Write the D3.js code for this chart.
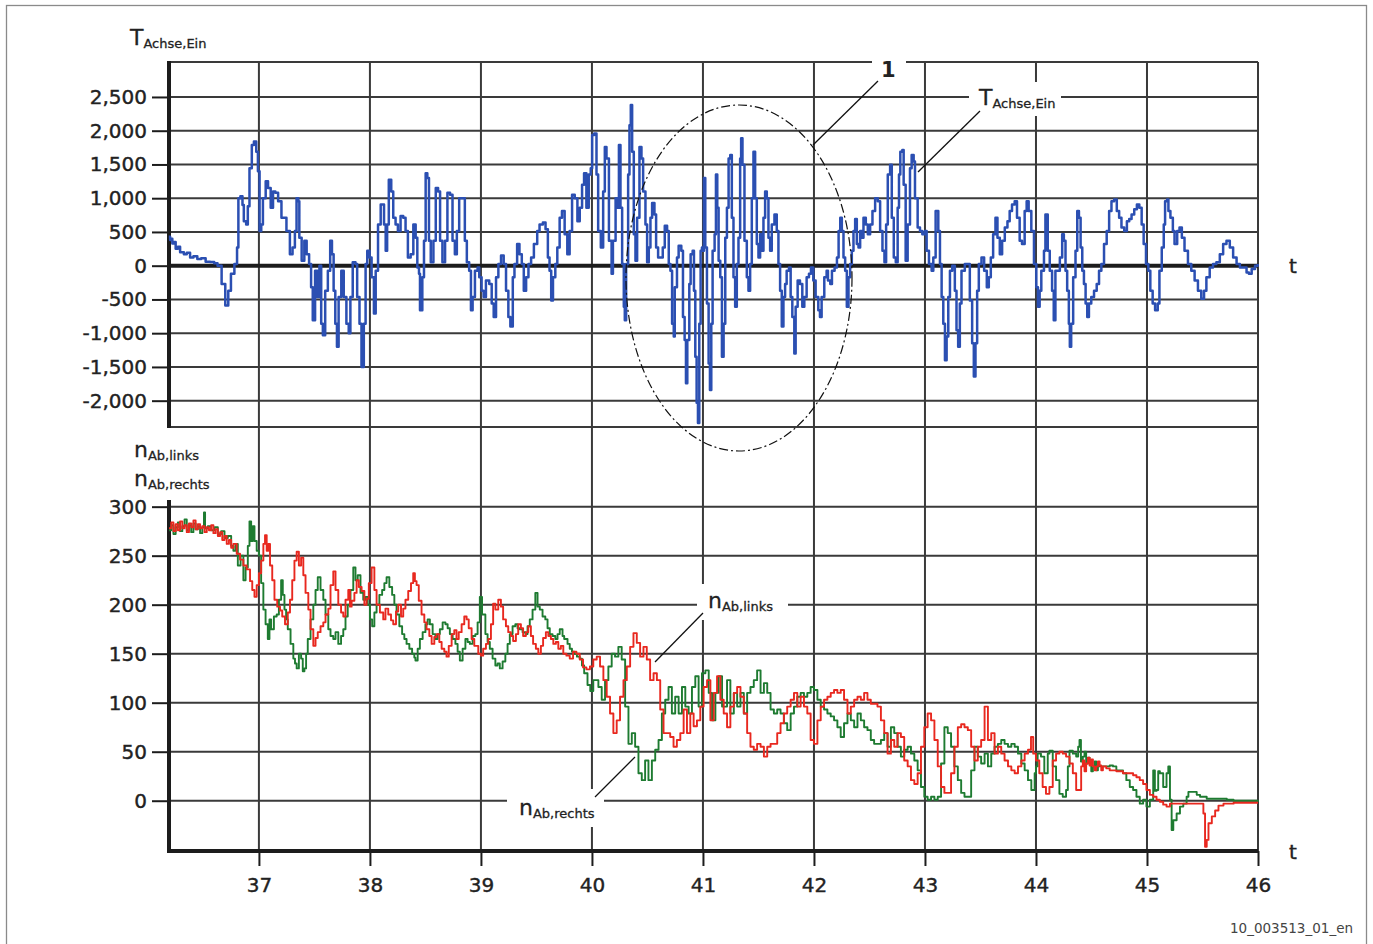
<!DOCTYPE html>
<html><head><meta charset="utf-8">
<script src="https://cdn.jsdelivr.net/npm/d3@7"></script>
<style>
html,body{margin:0;padding:0;background:#fff;}
svg{display:block;font-family:"DejaVu Sans",sans-serif;}
</style></head><body>
<svg id="chart" width="1373" height="944"></svg>
<script>
// ---------- data ----------
const torqueTicks = [-2000,-1500,-1000,-500,0,500,1000,1500,2000,2500];
const speedTicks = [0,50,100,150,200,250,300];
const timeTicks = [37,38,39,40,41,42,43,44,45,46];

// T_Achse,Ein  [t, value]
const torque = [[36.188,430],[36.2,380],[36.21,400],[36.22,330],[36.235,350],[36.25,250],[36.27,280],[36.29,200],[36.324,170],[36.35,190],[36.38,120],[36.41,140],[36.445,100],[36.48,110],[36.52,60],[36.56,55],[36.597,35],[36.627,0],[36.664,-270],[36.697,-590],[36.724,-370],[36.748,-120],[36.779,25],[36.803,270],[36.815,1000],[36.833,1030],[36.852,900],[36.864,660],[36.885,610],[36.9,880],[36.915,1445],[36.936,1790],[36.955,1840],[36.976,1690],[36.991,1400],[37.006,515],[37.021,610],[37.036,1000],[37.061,1250],[37.082,1150],[37.106,860],[37.127,1100],[37.148,1080],[37.173,955],[37.203,710],[37.248,515],[37.279,170],[37.303,270],[37.324,515],[37.339,1000],[37.355,955],[37.364,415],[37.385,75],[37.409,370],[37.43,170],[37.452,25],[37.47,-320],[37.485,-810],[37.506,-75],[37.527,-465],[37.545,0],[37.561,-860],[37.576,-1030],[37.597,-370],[37.621,-75],[37.642,370],[37.658,170],[37.673,-370],[37.688,-860],[37.703,-1200],[37.718,-465],[37.742,-75],[37.764,-465],[37.788,-860],[37.809,-1000],[37.824,-465],[37.845,50],[37.87,25],[37.885,-465],[37.906,-860],[37.924,-1500],[37.945,-860],[37.961,25],[37.976,220],[37.997,120],[38.015,-170],[38.036,-710],[38.052,-75],[38.073,610],[38.097,905],[38.127,610],[38.142,220],[38.155,610],[38.17,1275],[38.192,1100],[38.21,710],[38.231,610],[38.252,515],[38.276,735],[38.3,710],[38.321,515],[38.342,120],[38.367,170],[38.391,610],[38.412,415],[38.427,-25],[38.442,-120],[38.451,-660],[38.472,-170],[38.487,370],[38.502,1370],[38.517,1300],[38.532,370],[38.548,50],[38.572,370],[38.593,1150],[38.614,1100],[38.632,370],[38.653,50],[38.677,370],[38.698,1080],[38.722,1050],[38.744,370],[38.765,170],[38.783,515],[38.804,1000],[38.834,1000],[38.855,370],[38.873,50],[38.894,-75],[38.91,-660],[38.925,-465],[38.946,-75],[38.97,-25],[38.985,-170],[39.006,-370],[39.024,-465],[39.045,-220],[39.075,-270],[39.097,-560],[39.115,-760],[39.136,-170],[39.157,25],[39.181,150],[39.205,25],[39.226,-370],[39.247,-760],[39.265,-900],[39.287,-170],[39.302,25],[39.326,320],[39.347,170],[39.368,25],[39.386,-370],[39.407,-170],[39.428,25],[39.452,120],[39.477,320],[39.507,515],[39.528,610],[39.558,640],[39.582,540],[39.603,120],[39.618,-75],[39.633,-515],[39.649,-170],[39.67,25],[39.688,270],[39.709,710],[39.73,810],[39.754,465],[39.778,170],[39.799,515],[39.821,1050],[39.845,1000],[39.869,660],[39.89,860],[39.911,1200],[39.929,1370],[39.95,860],[39.971,1350],[39.989,1445],[40.002,1935],[40.02,1960],[40.041,1350],[40.056,515],[40.08,270],[40.101,1100],[40.116,1760],[40.131,1590],[40.153,370],[40.177,-120],[40.189,370],[40.213,1000],[40.228,860],[40.243,1790],[40.257,860],[40.272,25],[40.287,-610],[40.296,-810],[40.308,25],[40.326,1350],[40.338,2080],[40.35,2380],[40.362,1690],[40.377,465],[40.392,75],[40.407,710],[40.428,1760],[40.446,1590],[40.461,1100],[40.482,610],[40.497,50],[40.512,270],[40.527,710],[40.542,930],[40.563,760],[40.578,270],[40.596,120],[40.617,120],[40.638,270],[40.656,590],[40.677,515],[40.692,25],[40.707,-75],[40.722,-860],[40.737,-1050],[40.746,-320],[40.766,120],[40.781,295],[40.805,220],[40.82,-760],[40.835,-1100],[40.847,-1740],[40.859,-1100],[40.877,-270],[40.889,170],[40.907,220],[40.919,-370],[40.931,-1350],[40.943,-2030],[40.955,-2330],[40.967,-860],[40.979,220],[40.991,270],[41.0,220],[41.009,1300],[41.021,270],[41.036,-560],[41.051,-1450],[41.063,-1840],[41.075,-860],[41.087,220],[41.105,465],[41.117,1350],[41.129,860],[41.141,75],[41.156,-170],[41.171,-1350],[41.186,-860],[41.201,415],[41.216,860],[41.231,1590],[41.246,1640],[41.26,710],[41.275,-170],[41.29,-610],[41.305,25],[41.32,415],[41.335,1590],[41.344,1890],[41.356,1495],[41.374,370],[41.395,-170],[41.41,-370],[41.425,25],[41.44,1000],[41.455,1690],[41.47,1000],[41.485,320],[41.5,120],[41.515,465],[41.53,220],[41.545,710],[41.56,1100],[41.575,1000],[41.59,415],[41.605,220],[41.62,610],[41.644,760],[41.665,515],[41.68,25],[41.695,-370],[41.71,-900],[41.725,-465],[41.74,-270],[41.754,-75],[41.775,-25],[41.79,-465],[41.805,-760],[41.823,-1300],[41.835,-610],[41.853,-220],[41.874,-270],[41.895,-610],[41.913,-465],[41.934,-170],[41.955,-120],[41.973,-25],[41.994,-220],[42.015,-465],[42.039,-660],[42.054,-760],[42.069,-465],[42.093,-170],[42.114,-75],[42.126,-220],[42.147,-270],[42.162,-75],[42.186,-25],[42.207,120],[42.222,515],[42.237,710],[42.251,515],[42.266,120],[42.281,-75],[42.296,-610],[42.311,-170],[42.326,25],[42.341,220],[42.356,515],[42.371,690],[42.386,320],[42.401,270],[42.416,515],[42.431,415],[42.446,710],[42.467,610],[42.485,465],[42.506,610],[42.527,810],[42.551,1000],[42.575,955],[42.596,515],[42.617,220],[42.635,50],[42.65,610],[42.665,1350],[42.686,1495],[42.701,710],[42.719,120],[42.737,50],[42.754,860],[42.766,1350],[42.778,1690],[42.796,1715],[42.808,1200],[42.826,75],[42.844,610],[42.865,1445],[42.88,1640],[42.898,1545],[42.91,1000],[42.934,565],[42.955,515],[42.976,465],[43.0,515],[43.015,220],[43.036,25],[43.06,-75],[43.075,120],[43.096,810],[43.12,515],[43.135,25],[43.15,-465],[43.165,-860],[43.18,-1400],[43.195,-1050],[43.21,-465],[43.225,-75],[43.246,0],[43.269,-370],[43.284,-955],[43.299,-1200],[43.314,-560],[43.329,-75],[43.359,25],[43.383,25],[43.404,-515],[43.425,-1150],[43.44,-1640],[43.455,-1150],[43.47,-370],[43.485,25],[43.509,120],[43.533,-75],[43.557,-320],[43.575,-170],[43.593,120],[43.614,465],[43.635,710],[43.653,415],[43.674,170],[43.695,370],[43.719,565],[43.743,660],[43.763,810],[43.784,905],[43.808,955],[43.829,710],[43.853,370],[43.874,320],[43.898,810],[43.916,955],[43.934,810],[43.958,515],[43.982,25],[44.003,-320],[44.018,-610],[44.033,-370],[44.048,-75],[44.072,220],[44.085,760],[44.106,220],[44.124,-75],[44.145,-370],[44.16,-810],[44.175,-75],[44.19,-75],[44.215,120],[44.236,465],[44.251,370],[44.266,-75],[44.281,-370],[44.296,-860],[44.305,-1200],[44.317,-860],[44.335,-170],[44.356,220],[44.372,810],[44.387,710],[44.402,270],[44.417,-75],[44.432,-270],[44.447,-560],[44.462,-760],[44.477,-560],[44.498,-465],[44.523,-370],[44.547,-270],[44.568,-75],[44.589,25],[44.613,320],[44.637,515],[44.659,810],[44.68,955],[44.704,980],[44.728,810],[44.749,710],[44.77,565],[44.795,515],[44.819,660],[44.84,690],[44.861,760],[44.885,835],[44.909,905],[44.931,860],[44.952,610],[44.97,320],[44.991,25],[45.012,-75],[45.03,-370],[45.051,-560],[45.073,-660],[45.097,-560],[45.112,-75],[45.133,270],[45.151,610],[45.163,955],[45.181,980],[45.193,810],[45.211,710],[45.233,515],[45.248,320],[45.272,515],[45.293,565],[45.314,415],[45.338,220],[45.369,25],[45.399,-75],[45.429,-220],[45.459,-370],[45.489,-490],[45.514,-370],[45.535,-170],[45.565,-25],[45.595,25],[45.625,50],[45.656,170],[45.686,320],[45.716,370],[45.746,270],[45.776,120],[45.807,25],[45.837,-25],[45.867,-25],[45.897,-100],[45.918,-120],[45.943,-50],[45.973,0],[45.997,25]];

// n_Ab,links (red)  [t, value]
const speedLeft = [[36.19,278],[36.21,284],[36.23,275],[36.25,282],[36.27,276],[36.29,285],[36.31,278],[36.33,281],[36.35,274],[36.37,283],[36.39,279],[36.41,286],[36.43,277],[36.45,282],[36.47,278],[36.49,280],[36.51,274],[36.53,279],[36.55,276],[36.57,281],[36.59,273],[36.61,277],[36.63,270],[36.65,274],[36.67,266],[36.69,270],[36.71,262],[36.73,266],[36.75,258],[36.77,262],[36.8,252],[36.83,246],[36.86,240],[36.89,236],[36.92,224],[36.94,215],[36.96,208],[36.98,220],[37.0,232],[37.02,245],[37.04,262],[37.055,271],[37.07,255],[37.085,262],[37.1,240],[37.12,225],[37.14,205],[37.165,198],[37.19,194],[37.21,188],[37.235,180],[37.26,192],[37.28,205],[37.3,225],[37.32,245],[37.34,254],[37.36,240],[37.38,248],[37.4,230],[37.42,212],[37.445,195],[37.465,175],[37.49,158],[37.51,166],[37.53,172],[37.555,178],[37.58,182],[37.6,190],[37.625,196],[37.645,220],[37.67,234],[37.69,215],[37.715,200],[37.74,192],[37.76,188],[37.78,205],[37.805,215],[37.82,198],[37.835,204],[37.86,212],[37.88,225],[37.9,218],[37.925,214],[37.95,200],[37.97,206],[37.99,222],[38.015,238],[38.04,215],[38.06,200],[38.09,192],[38.12,185],[38.14,196],[38.165,190],[38.19,184],[38.21,180],[38.235,193],[38.255,200],[38.28,188],[38.3,196],[38.32,205],[38.345,214],[38.37,222],[38.39,232],[38.405,224],[38.42,220],[38.44,204],[38.465,190],[38.49,182],[38.51,175],[38.535,168],[38.556,160],[38.58,167],[38.6,170],[38.625,162],[38.646,155],[38.67,152],[38.69,147],[38.71,158],[38.736,170],[38.76,174],[38.78,165],[38.8,172],[38.826,180],[38.85,188],[38.871,185],[38.89,176],[38.916,165],[38.94,158],[38.976,150],[39.0,148],[39.02,155],[39.045,160],[39.066,165],[39.09,180],[39.11,201],[39.13,195],[39.156,205],[39.18,198],[39.2,185],[39.225,178],[39.246,172],[39.27,168],[39.29,163],[39.315,170],[39.336,180],[39.36,176],[39.38,168],[39.405,172],[39.426,178],[39.45,168],[39.47,160],[39.495,155],[39.517,150],[39.54,158],[39.56,166],[39.585,172],[39.607,168],[39.63,165],[39.652,160],[39.675,162],[39.697,155],[39.72,158],[39.742,150],[39.77,148],[39.8,145],[39.83,152],[39.86,150],[39.89,144],[39.92,136],[39.95,134],[39.982,137],[40.012,144],[40.043,147],[40.073,137],[40.103,123],[40.133,106],[40.163,89],[40.193,69],[40.223,82],[40.253,106],[40.284,123],[40.314,137],[40.344,157],[40.374,171],[40.404,161],[40.434,147],[40.464,157],[40.494,144],[40.524,123],[40.555,130],[40.585,123],[40.615,93],[40.645,69],[40.675,69],[40.705,65],[40.735,55],[40.765,62],[40.796,69],[40.826,93],[40.856,69],[40.886,89],[40.916,76],[40.946,82],[40.976,96],[41.006,116],[41.037,123],[41.067,82],[41.097,110],[41.127,127],[41.157,103],[41.187,89],[41.217,75],[41.247,96],[41.278,110],[41.308,116],[41.338,106],[41.368,89],[41.398,69],[41.428,55],[41.458,52],[41.488,58],[41.519,55],[41.549,45],[41.579,55],[41.609,58],[41.639,58],[41.669,69],[41.699,79],[41.729,89],[41.759,96],[41.79,103],[41.82,110],[41.85,96],[41.88,106],[41.91,96],[41.94,89],[41.97,62],[42.0,58],[42.031,82],[42.061,96],[42.091,103],[42.121,106],[42.151,110],[42.181,113],[42.211,110],[42.241,113],[42.271,103],[42.302,89],[42.332,96],[42.362,103],[42.392,106],[42.422,103],[42.452,110],[42.482,103],[42.512,99],[42.542,99],[42.572,96],[42.603,82],[42.633,69],[42.663,48],[42.693,62],[42.723,55],[42.753,69],[42.783,65],[42.813,41],[42.844,35],[42.874,21],[42.904,17],[42.934,28],[42.964,55],[42.994,75],[43.024,89],[43.055,82],[43.085,62],[43.115,35],[43.145,14],[43.175,8],[43.205,8],[43.235,28],[43.265,55],[43.296,75],[43.326,78],[43.356,75],[43.386,72],[43.416,55],[43.446,41],[43.476,55],[43.506,62],[43.537,96],[43.567,62],[43.597,69],[43.627,48],[43.657,55],[43.687,48],[43.717,41],[43.748,35],[43.778,31],[43.808,28],[43.838,35],[43.868,41],[43.898,48],[43.928,52],[43.955,65],[43.975,48],[44.0,41],[44.03,28],[44.06,14],[44.09,7],[44.121,14],[44.151,41],[44.181,48],[44.211,50],[44.241,48],[44.271,45],[44.302,38],[44.332,28],[44.362,11],[44.392,11],[44.407,35],[44.422,41],[44.437,30],[44.452,38],[44.468,44],[44.483,36],[44.498,42],[44.513,35],[44.528,31],[44.543,35],[44.558,40],[44.573,36],[44.588,31],[44.603,35],[44.633,33],[44.664,31],[44.694,31],[44.724,30],[44.754,30],[44.784,28],[44.814,28],[44.845,28],[44.875,26],[44.905,24],[44.935,21],[44.965,17],[44.995,11],[45.026,6],[45.056,4],[45.086,1],[45.116,-1],[45.146,-4],[45.176,-6],[45.207,-3],[45.297,-3],[45.418,-3],[45.478,-3],[45.508,-13],[45.523,-47],[45.538,-40],[45.554,-23],[45.584,-16],[45.614,-10],[45.644,-5],[45.689,-3],[45.78,-2],[46.0,-2]];

// n_Ab,rechts (green)  [t, value]
const speedRight = [[36.19,276],[36.21,281],[36.23,272],[36.25,279],[36.27,284],[36.29,275],[36.31,280],[36.33,287],[36.35,276],[36.37,281],[36.39,274],[36.41,283],[36.43,277],[36.45,280],[36.47,273],[36.49,279],[36.505,294],[36.515,278],[36.54,280],[36.57,276],[36.6,279],[36.63,272],[36.66,275],[36.69,268],[36.72,270],[36.75,260],[36.77,255],[36.79,262],[36.81,240],[36.835,250],[36.86,225],[36.88,238],[36.9,260],[36.915,285],[36.93,265],[36.945,280],[36.96,265],[36.98,255],[37.0,250],[37.02,222],[37.04,195],[37.06,180],[37.08,165],[37.095,185],[37.11,175],[37.135,188],[37.16,190],[37.18,205],[37.2,225],[37.215,210],[37.23,195],[37.245,185],[37.26,175],[37.285,160],[37.31,145],[37.325,140],[37.34,135],[37.36,150],[37.38,145],[37.395,132],[37.41,135],[37.425,150],[37.44,165],[37.465,185],[37.49,200],[37.51,215],[37.53,228],[37.555,215],[37.58,205],[37.6,190],[37.625,175],[37.645,168],[37.67,165],[37.69,172],[37.715,160],[37.74,168],[37.76,175],[37.78,188],[37.8,200],[37.825,215],[37.85,238],[37.87,225],[37.89,230],[37.915,212],[37.94,205],[37.96,208],[37.98,200],[38.0,185],[38.02,178],[38.04,192],[38.06,200],[38.085,210],[38.11,215],[38.13,222],[38.15,228],[38.175,218],[38.2,210],[38.22,200],[38.24,190],[38.265,178],[38.29,170],[38.31,165],[38.33,160],[38.355,155],[38.38,150],[38.4,146],[38.41,143],[38.43,155],[38.45,165],[38.475,172],[38.5,180],[38.52,185],[38.54,180],[38.565,170],[38.59,165],[38.61,170],[38.63,175],[38.655,182],[38.68,180],[38.7,176],[38.72,170],[38.745,165],[38.77,160],[38.79,152],[38.81,143],[38.835,155],[38.86,165],[38.88,162],[38.9,160],[38.925,168],[38.95,170],[38.97,182],[38.99,208],[39.01,190],[39.04,170],[39.06,162],[39.08,155],[39.105,145],[39.13,138],[39.15,140],[39.17,135],[39.195,142],[39.22,150],[39.24,160],[39.26,170],[39.285,178],[39.31,180],[39.33,176],[39.35,175],[39.375,172],[39.4,170],[39.42,178],[39.44,185],[39.465,195],[39.49,212],[39.51,198],[39.53,195],[39.555,188],[39.58,185],[39.6,176],[39.62,170],[39.645,168],[39.67,165],[39.69,170],[39.71,175],[39.735,168],[39.75,165],[39.78,160],[39.8,155],[39.82,152],[39.84,150],[39.865,147],[39.89,145],[39.91,138],[39.93,130],[39.96,118],[39.985,112],[40.012,123],[40.058,116],[40.088,103],[40.118,123],[40.148,137],[40.178,150],[40.208,147],[40.238,157],[40.268,144],[40.299,96],[40.329,58],[40.359,69],[40.389,55],[40.419,28],[40.449,21],[40.479,41],[40.509,21],[40.54,41],[40.57,52],[40.6,62],[40.63,89],[40.66,103],[40.69,116],[40.72,89],[40.75,106],[40.781,89],[40.811,116],[40.841,96],[40.871,89],[40.901,116],[40.931,127],[40.961,96],[40.991,130],[41.022,133],[41.052,110],[41.082,82],[41.112,110],[41.142,127],[41.172,96],[41.217,123],[41.247,89],[41.278,110],[41.308,96],[41.338,110],[41.368,89],[41.398,110],[41.428,116],[41.458,123],[41.488,133],[41.519,110],[41.549,120],[41.579,110],[41.609,93],[41.639,89],[41.669,93],[41.699,89],[41.729,79],[41.759,72],[41.79,89],[41.82,96],[41.85,106],[41.88,110],[41.91,106],[41.94,110],[41.97,116],[42.0,113],[42.031,103],[42.061,96],[42.091,93],[42.121,89],[42.151,86],[42.181,82],[42.211,75],[42.241,65],[42.271,79],[42.302,89],[42.332,82],[42.362,75],[42.392,89],[42.422,82],[42.452,75],[42.482,72],[42.512,62],[42.542,58],[42.572,58],[42.603,62],[42.633,69],[42.663,55],[42.693,75],[42.723,69],[42.753,55],[42.783,45],[42.813,52],[42.844,55],[42.874,48],[42.904,41],[42.934,31],[42.964,14],[42.994,4],[43.024,1],[43.055,4],[43.085,1],[43.115,4],[43.145,38],[43.175,75],[43.205,69],[43.235,55],[43.265,35],[43.296,21],[43.326,8],[43.356,4],[43.386,4],[43.416,31],[43.446,55],[43.476,45],[43.506,38],[43.537,48],[43.567,35],[43.597,48],[43.627,55],[43.657,58],[43.687,62],[43.717,58],[43.748,55],[43.778,58],[43.808,55],[43.838,48],[43.868,38],[43.898,31],[43.928,21],[43.958,11],[43.988,28],[44.0,35],[44.015,48],[44.045,45],[44.075,28],[44.106,48],[44.121,51],[44.151,35],[44.181,21],[44.211,7],[44.241,4],[44.271,11],[44.287,35],[44.302,51],[44.332,48],[44.362,45],[44.38,55],[44.392,62],[44.405,40],[44.422,45],[44.437,50],[44.452,38],[44.468,44],[44.483,41],[44.498,30],[44.513,35],[44.528,40],[44.543,31],[44.558,36],[44.573,35],[44.603,35],[44.633,35],[44.664,36],[44.694,35],[44.724,31],[44.754,31],[44.784,28],[44.814,21],[44.845,14],[44.875,11],[44.905,4],[44.935,-3],[44.965,1],[44.995,-6],[45.026,1],[45.056,31],[45.071,10],[45.086,11],[45.101,30],[45.116,28],[45.146,14],[45.176,28],[45.192,35],[45.207,1],[45.222,-30],[45.237,-20],[45.267,-13],[45.297,-6],[45.327,-3],[45.357,4],[45.373,9],[45.418,9],[45.448,6],[45.478,4],[45.538,2],[45.629,2],[45.719,1],[45.78,0],[46.0,-1]];

// ---------- drawing ----------
const svg = d3.select("#chart");
const loc = d3.formatLocale({decimal:".", thousands:",", grouping:[3], currency:["",""], minus:"-"});
const fmt = loc.format(",");

const x = d3.scaleLinear().domain([36.19, 46]).range([169, 1258]);
const yT = d3.scaleLinear().domain([-2390, 3018]).range([427, 62]);
const yN = d3.scaleLinear().domain([-51.3, 306.8]).range([851, 500]);

const gridCol = "#3a3a3a", axisCol = "#1c1c1c", textCol = "#222";

// outer frame
svg.append("rect").attr("x",6.5).attr("y",5.5).attr("width",1360).attr("height",945)
  .attr("fill","none").attr("stroke","#8a8a8a").attr("stroke-width",1.3);

const grid = svg.append("g").attr("stroke",gridCol).attr("stroke-width",2);
grid.selectAll(".ht").data(torqueTicks.filter(d=>d!==0)).join("line")
  .attr("x1",x.range()[0]).attr("x2",x.range()[1]).attr("y1",d=>yT(d)).attr("y2",d=>yT(d));
grid.selectAll(".hf").data(yT.domain()).join("line")
  .attr("x1",x.range()[0]).attr("x2",x.range()[1]).attr("y1",d=>yT(d)).attr("y2",d=>yT(d));
grid.selectAll(".hb").data(speedTicks).join("line")
  .attr("x1",x.range()[0]).attr("x2",x.range()[1]).attr("y1",d=>yN(d)).attr("y2",d=>yN(d));
grid.selectAll(".v").data(timeTicks).join("line")
  .attr("x1",d=>x(d)).attr("x2",d=>x(d)).attr("y1",yT.range()[1]).attr("y2",yN.range()[0]);

function styleAxis(g){
  g.select(".domain").remove();
  g.selectAll(".tick line").attr("stroke",axisCol).attr("stroke-width",2);
  g.selectAll(".tick text").attr("fill",textCol).attr("font-size",20)
    .attr("font-family","'DejaVu Sans',sans-serif")
    .attr("stroke",textCol).attr("stroke-width",0.4);
}
svg.append("g").attr("transform",`translate(${x.range()[0]},0)`)
  .call(d3.axisLeft(yT).tickValues(torqueTicks).tickSize(17).tickPadding(5).tickFormat(fmt))
  .call(styleAxis);
svg.append("g").attr("transform",`translate(${x.range()[0]},0)`)
  .call(d3.axisLeft(yN).tickValues(speedTicks).tickSize(17).tickPadding(5).tickFormat(fmt))
  .call(styleAxis);
svg.append("g").attr("transform",`translate(0,${yN.range()[0]})`)
  .call(d3.axisBottom(x).tickValues(timeTicks).tickSize(15).tickPadding(12).tickFormat(d3.format("d")))
  .call(styleAxis);

const thick = svg.append("g").attr("stroke",axisCol).attr("stroke-width",4);
thick.append("line").attr("x1",x.range()[0]).attr("x2",x.range()[0]).attr("y1",yT.range()[1]-1).attr("y2",yT.range()[0]+1);
thick.append("line").attr("x1",x.range()[0]).attr("x2",x.range()[1]).attr("y1",yT(0)).attr("y2",yT(0));
thick.append("line").attr("x1",x.range()[0]).attr("x2",x.range()[0]).attr("y1",yN.range()[1]).attr("y2",yN.range()[0]+2);
thick.append("line").attr("x1",x.range()[0]-2).attr("x2",x.range()[1]).attr("y1",yN.range()[0]).attr("y2",yN.range()[0]);

const lineT = d3.line().x(d=>x(d[0])).y(d=>yT(d[1])).curve(d3.curveStepAfter);
const lineN = d3.line().x(d=>x(d[0])).y(d=>yN(d[1])).curve(d3.curveStepAfter);
svg.append("path").datum(speedRight).attr("d",lineN).attr("fill","none")
  .attr("stroke","#1e7b31").attr("stroke-width",1.9).attr("stroke-linejoin","round");
svg.append("path").datum(speedLeft).attr("d",lineN).attr("fill","none")
  .attr("stroke","#e8281f").attr("stroke-width",1.9).attr("stroke-linejoin","round");
svg.append("path").datum(torque).attr("d",lineT).attr("fill","none")
  .attr("stroke","#2b4fb2").attr("stroke-width",2.5).attr("stroke-linejoin","round");

function subLabel(g, px, py, main, sub, mainSize, subSize){
  const t = g.append("text").attr("x",px).attr("y",py).attr("fill",textCol)
    .attr("font-family","'DejaVu Sans',sans-serif")
    .attr("stroke",textCol).attr("stroke-width",0.3);
  t.append("tspan").attr("font-size",mainSize).text(main);
  t.append("tspan").attr("font-size",subSize).attr("dy",3).text(sub);
  return t;
}
const ann = svg.append("g");
subLabel(ann,130,45,"T","Achse,Ein",22,13);
subLabel(ann,134,457,"n","Ab,links",22,13);
subLabel(ann,134,486,"n","Ab,rechts",22,13);
ann.append("text").attr("x",1289).attr("y",yT(0)+7).attr("font-size",20).attr("fill",textCol)
  .attr("stroke",textCol).attr("stroke-width",0.4).text("t");
ann.append("text").attr("x",1289).attr("y",yN.range()[0]+8).attr("font-size",20).attr("fill",textCol)
  .attr("stroke",textCol).attr("stroke-width",0.4).text("t");

const boxes = [[872,52,34,28],[969,82,92,34],[697,584,91,36],[507,789,97,38]];
ann.selectAll(".box").data(boxes).join("rect")
  .attr("x",d=>d[0]).attr("y",d=>d[1]).attr("width",d=>d[2]).attr("height",d=>d[3]).attr("fill","#fff");
ann.append("text").attr("x",881).attr("y",77).attr("font-size",21).attr("font-weight","bold").attr("fill",textCol).text("1");
subLabel(ann,979,105,"T","Achse,Ein",22,13);
subLabel(ann,708,608,"n","Ab,links",22,13);
subLabel(ann,519,815,"n","Ab,rechts",22,13);

const leaders = [[878,81,813,145],[980,111,918,172],[703,613,655,662],[595,797,635,757]];
ann.selectAll(".lead").data(leaders).join("line")
  .attr("x1",d=>d[0]).attr("y1",d=>d[1]).attr("x2",d=>d[2]).attr("y2",d=>d[3])
  .attr("stroke","#111").attr("stroke-width",1.3);

ann.append("ellipse").attr("cx",739).attr("cy",278).attr("rx",113).attr("ry",173)
  .attr("fill","none").attr("stroke","#111").attr("stroke-width",1.2)
  .attr("stroke-dasharray","9 3 2 3");

ann.append("text").attr("x",1353).attr("y",933).attr("text-anchor","end")
  .attr("font-size",13.5).attr("fill","#444").text("10_003513_01_en");
</script>
</body></html>
